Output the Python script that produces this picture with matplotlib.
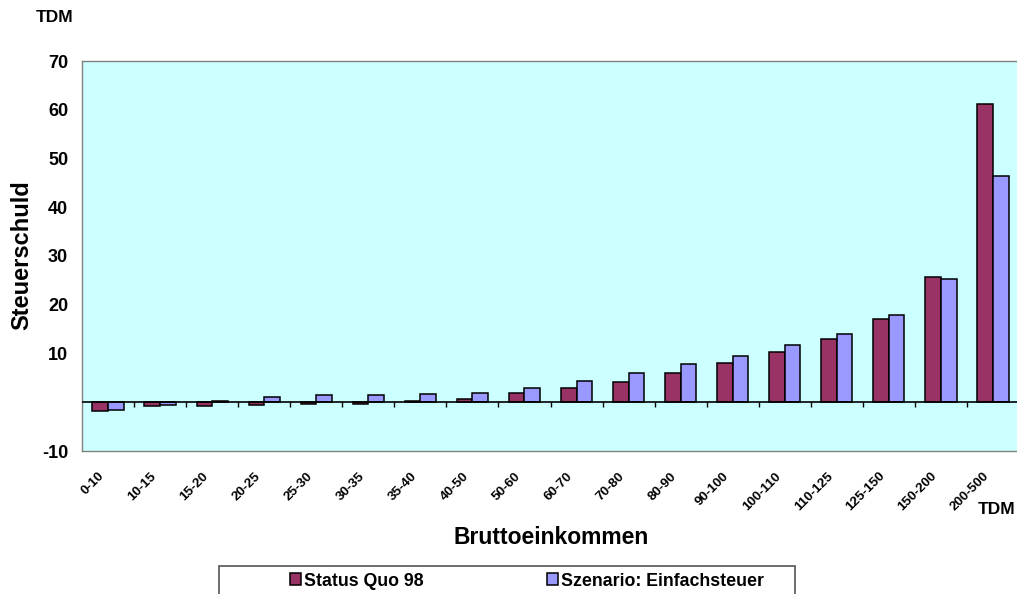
import matplotlib
matplotlib.use("Agg")
import matplotlib.pyplot as plt
import matplotlib.transforms as mtransforms
import numpy as np
from matplotlib.patches import Rectangle

plt.rcParams["font.family"] = ["Liberation Sans", "DejaVu Sans"]
plt.rcParams["font.weight"] = "bold"

# ── data (TDM) ────────────────────────────────────────────────────────────────
categories = ["0-10", "10-15", "15-20", "20-25", "25-30", "30-35", "35-40",
              "40-50", "50-60", "60-70", "70-80", "80-90", "90-100",
              "100-110", "110-125", "125-150", "150-200", "200-500"]
status_quo = [-1.7, -0.7, -0.7, -0.5, -0.3, -0.3, 0.2, 0.6, 1.8, 2.9, 4.2,
              6.1, 8.1, 10.4, 12.9, 17.0, 25.6, 61.1]
einfach = [-1.5, -0.5, 0.2, 1.0, 1.5, 1.4, 1.6, 1.8, 3.0, 4.3, 5.9, 7.9,
           9.5, 11.7, 14.1, 17.8, 25.2, 46.5]
yticks = [-10, 10, 20, 30, 40, 50, 60, 70]

C_RED = "#993366"
C_BLUE = "#9999FF"
C_BG = "#CCFFFF"

W, H = 1017, 594
fig = plt.figure(figsize=(W / 100, H / 100), dpi=100)
fig.patch.set_facecolor("white")

ax = fig.add_axes([82 / W, 143 / H, (1019 - 82) / W, 390 / H])
ax.set_facecolor(C_BG)

x = np.arange(len(categories))
bw = 0.3
b1 = ax.bar(x - bw / 2, status_quo, bw, color=C_RED, edgecolor="black",
            linewidth=1.1, label="Status Quo 98", zorder=3)
b2 = ax.bar(x + bw / 2, einfach, bw, color=C_BLUE, edgecolor="black",
            linewidth=1.1, label="Szenario: Einfachsteuer", zorder=3)

ax.set_xlim(-0.5, len(categories) - 0.5)
ax.set_ylim(-10, 70)
ax.axhline(0, color="black", lw=1.2, zorder=4)
# category tick marks on the zero line
ax.vlines(np.arange(len(categories)) + 0.5, -1.0, 0, color="black", lw=1.0, zorder=4)

ax.set_yticks(yticks)
ax.set_yticklabels([str(v) for v in yticks], fontsize=13, fontweight="bold")
ax.tick_params(axis="y", length=0, pad=10)
ax.set_xticks(x)
ax.set_xticklabels(categories, rotation=45, ha="right", rotation_mode="anchor",
                   fontsize=9.7, fontweight="bold")
ax.tick_params(axis="x", length=0, pad=8)
offset = mtransforms.ScaledTranslation(-10 / 100, -8 / 100, fig.dpi_scale_trans)
for lab in ax.get_xticklabels():
    lab.set_transform(lab.get_transform() + offset)
for s in ax.spines.values():
    s.set_color("#808080")
    s.set_linewidth(1.0)

# ── labels ────────────────────────────────────────────────────────────────────
fig.text(22 / W, 1 - 255 / H, "Steuerschuld", rotation=90, ha="center", va="center",
         fontsize=17, fontweight="bold")
fig.text(551 / W, 1 - 537 / H, "Bruttoeinkommen", ha="center", va="center",
         fontsize=16.5, fontweight="bold")
fig.text(55 / W, 1 - 18 / H, "TDM", ha="center", va="center", fontsize=12.5,
         fontweight="bold")
fig.text(997 / W, 1 - 510 / H, "TDM", ha="center", va="center", fontsize=12.5,
         fontweight="bold")

# ── legend ────────────────────────────────────────────────────────────────────
fig.patches.append(Rectangle((219 / W, -0.05), (795 - 219) / W, 0.05 + 28 / H,
                             transform=fig.transFigure, fc="white", ec="#555555",
                             lw=1.2, zorder=5))
leg = fig.legend(handles=[b1, b2], loc="center left",
                 bbox_to_anchor=(281 / W, 1 - 581 / H), ncol=2, frameon=False,
                 borderpad=0, handlelength=0.62, handleheight=0.62,
                 handletextpad=0.2, columnspacing=6.9,
                 prop={"size": 12.8, "weight": "bold"})
leg.set_zorder(6)

fig.savefig("out.png", dpi=100, facecolor="white")
